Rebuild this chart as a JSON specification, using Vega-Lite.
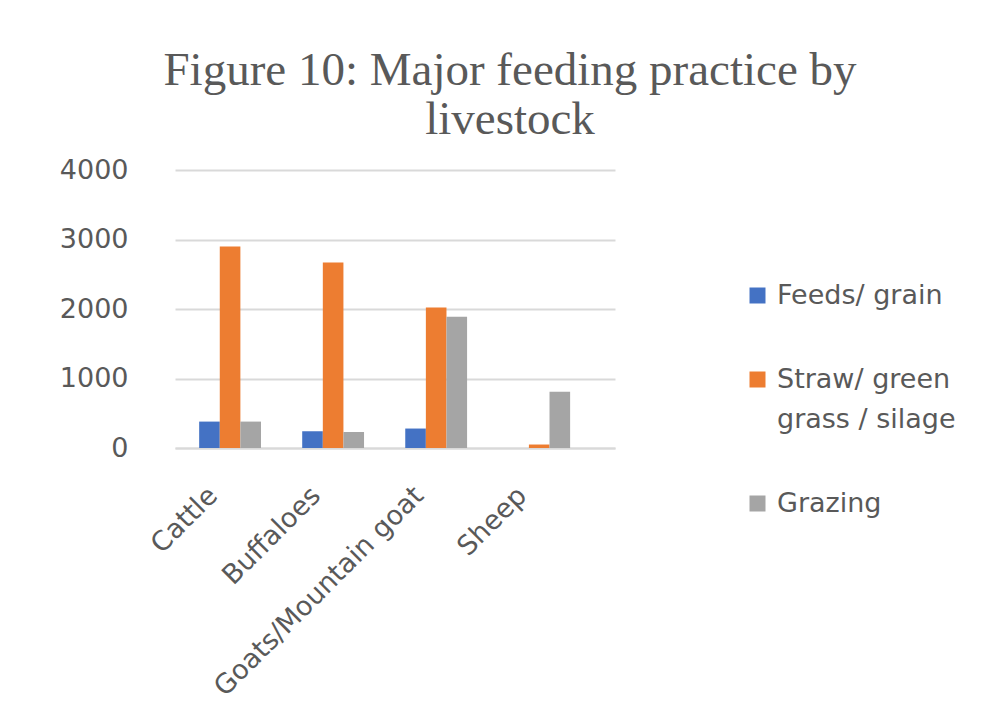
{
  "$schema": "https://vega.github.io/schema/vega-lite/v6.json",
  "autosize": "none",
  "width": 440,
  "height": 278,
  "padding": {"left": 175, "top": 170, "right": 388, "bottom": 261},
  "background": "white",
  "title": {
    "text": ["Figure 10: Major feeding practice by", "livestock"],
    "font": "Liberation Serif",
    "fontSize": 47,
    "fontWeight": "normal",
    "color": "#595959",
    "lineHeight": 49,
    "anchor": "middle",
    "dx": 115,
    "offset": 12
  },
  "data": {
    "values": [
      {"animal": "Cattle", "practice": "Feeds/ grain", "value": 380},
      {"animal": "Cattle", "practice": "Straw/ green grass / silage", "value": 2900},
      {"animal": "Cattle", "practice": "Grazing", "value": 380},
      {"animal": "Buffaloes", "practice": "Feeds/ grain", "value": 240},
      {"animal": "Buffaloes", "practice": "Straw/ green grass / silage", "value": 2670},
      {"animal": "Buffaloes", "practice": "Grazing", "value": 230},
      {"animal": "Goats/Mountain goat", "practice": "Feeds/ grain", "value": 280},
      {"animal": "Goats/Mountain goat", "practice": "Straw/ green grass / silage", "value": 2020},
      {"animal": "Goats/Mountain goat", "practice": "Grazing", "value": 1890},
      {"animal": "Sheep", "practice": "Feeds/ grain", "value": 0},
      {"animal": "Sheep", "practice": "Straw/ green grass / silage", "value": 50},
      {"animal": "Sheep", "practice": "Grazing", "value": 810}
    ]
  },
  "mark": {"type": "bar"},
  "encoding": {
    "x": {
      "field": "animal",
      "type": "nominal",
      "sort": ["Cattle", "Buffaloes", "Goats/Mountain goat", "Sheep"],
      "scale": {"paddingInner": 0.4, "paddingOuter": 0.335, "align": 0.35},
      "axis": {
        "title": null,
        "labelAngle": -45,
        "labelFont": "DejaVu Sans",
        "labelFontSize": 27,
        "labelColor": "#595959",
        "labelLimit": 400,
        "labelOffset": -26,
        "ticks": false,
        "domainColor": "#d9d9d9",
        "domainWidth": 2,
        "labelPadding": 34
      }
    },
    "xOffset": {
      "field": "practice",
      "type": "nominal",
      "sort": ["Feeds/ grain", "Straw/ green grass / silage", "Grazing"]
    },
    "y": {
      "field": "value",
      "type": "quantitative",
      "scale": {"domain": [0, 4000]},
      "axis": {
        "title": null,
        "values": [0, 1000, 2000, 3000, 4000],
        "format": "d",
        "labelFont": "DejaVu Sans",
        "labelFontSize": 27,
        "labelColor": "#595959",
        "ticks": false,
        "domain": false,
        "gridColor": "#d9d9d9",
        "gridWidth": 2,
        "labelPadding": 47
      }
    },
    "color": {
      "field": "practice",
      "type": "nominal",
      "sort": ["Feeds/ grain", "Straw/ green grass / silage", "Grazing"],
      "scale": {
        "domain": ["Feeds/ grain", "Straw/ green grass / silage", "Grazing"],
        "range": ["#4472C4", "#ED7D31", "#A5A5A5"]
      },
      "legend": {
        "title": null,
        "orient": "none",
        "legendX": 569,
        "legendY": 112,
        "symbolType": "square",
        "symbolSize": 256,
        "symbolStrokeWidth": 0,
        "labelFont": "DejaVu Sans",
        "labelFontSize": 27,
        "labelColor": "#595959",
        "labelLimit": 300,
        "labelOffset": 6,
        "rowPadding": 56,
        "labelExpr": "datum.label == 'Straw/ green grass / silage' ? ['Straw/ green', 'grass / silage'] : datum.label",
        "encode": {"labels": {"update": {"lineHeight": {"value": 40}}}}
      }
    }
  },
  "config": {"view": {"stroke": null}}
}
